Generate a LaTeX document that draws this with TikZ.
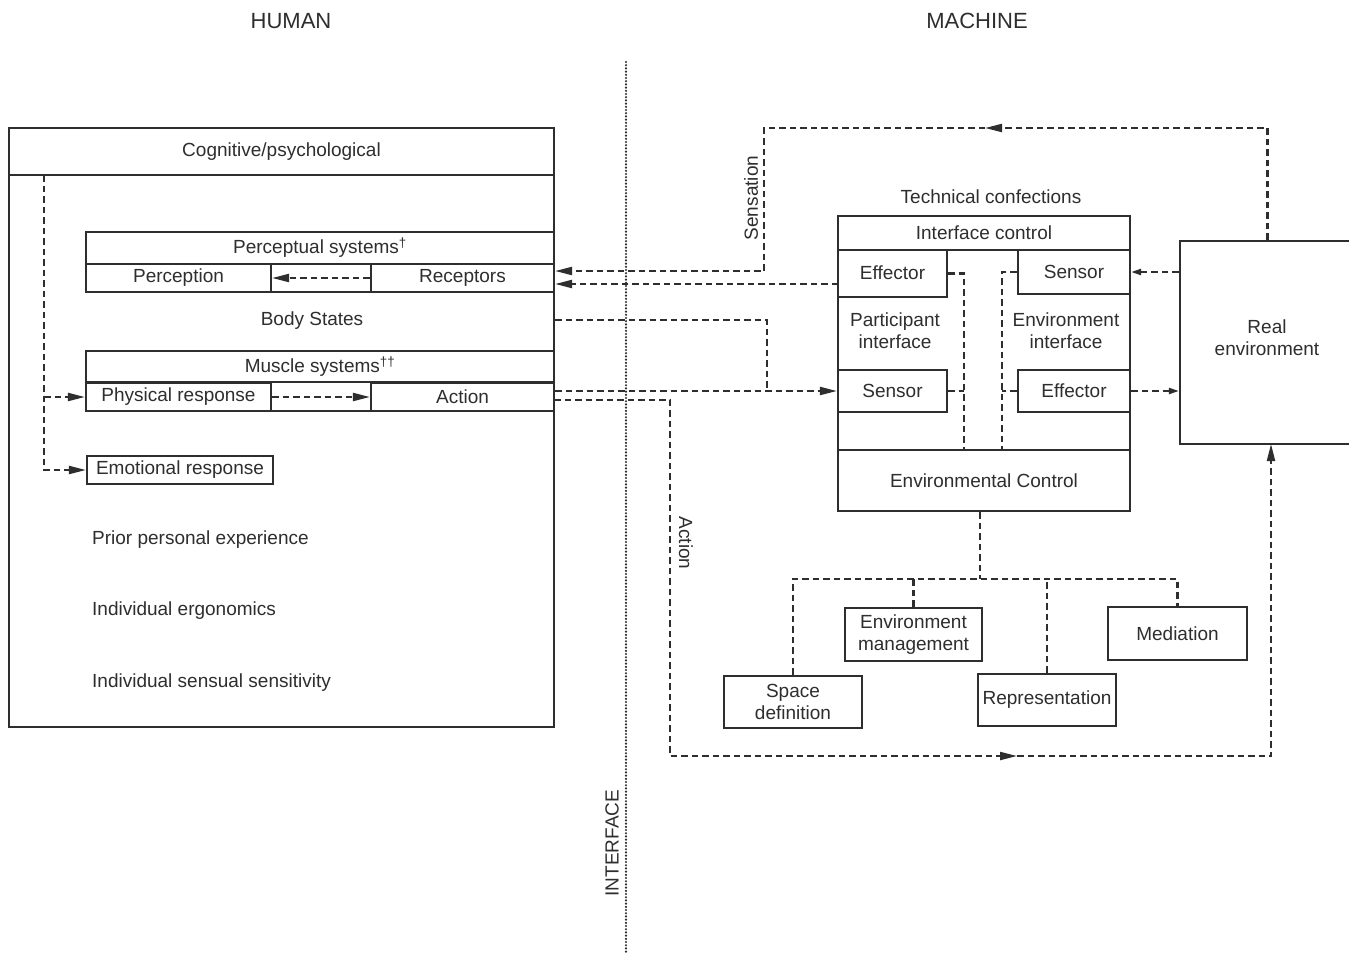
\documentclass[tikz,border=0pt]{standalone}
\usepackage{fontspec}
\setmainfont{Liberation Sans}
\usetikzlibrary{arrows.meta,calc}
\definecolor{ink}{HTML}{2E2E2E}
\begin{document}
\begin{tikzpicture}[x=1pt,y=-1pt,
  every node/.style={font=\fontsize{19}{22}\selectfont, text=ink},
  box/.style={draw=ink, line width=2.2pt, inner sep=0pt, align=center},
  lbl/.style={inner sep=0pt, align=center},
  dline/.style={draw=ink, line width=2.1pt, dash pattern=on 6.5pt off 4pt},
  bigarr/.style={-{Triangle[length=17pt,width=8pt]}},
  smallarr/.style={-{Triangle[length=10pt,width=6pt]}},
  dotline/.style={draw=ink, line width=2.4pt, line cap=round, dash pattern=on 0pt off 3.2pt},
  title/.style={font=\fontsize{22}{26}\selectfont, inner sep=0pt}]
\useasboundingbox (0,0) rectangle (1349,954);
\fill[white] (0,0) rectangle (1349,954);

% titles
\node[title] (thuman) at (291,21) {HUMAN};
\node[title] (tmachine) at (977,21) {MACHINE};

% interface divider
\draw[dotline] (626,62) -- (626,954);
\node[lbl, rotate=90] (tiface) at (612,843) {INTERFACE};

% ---------- HUMAN ----------
\node[box, minimum width=545pt, minimum height=599pt] (human) at (281.5,427.5) {};
\node[box, minimum width=545pt, minimum height=47pt] (cog) at (281.5,151.5) {\raisebox{-2pt}{Cognitive/psychological}};

\node[box, minimum width=468pt, minimum height=60pt] (percout) at (320,262) {};
\node[box, minimum width=468pt, minimum height=32pt] (percsys) at (320,248) {\raisebox{-2pt}{Perceptual systems\textsuperscript{†}}};
\node[box, minimum width=185pt, minimum height=28pt] (perception) at (178.5,278) {\raisebox{-2pt}{Perception}};
\node[box, minimum width=183pt, minimum height=28pt] (receptors) at (462.5,278) {Receptors};

\node[lbl] (bs) at (312,321) {Body States};

\node[box, minimum width=468pt, minimum height=60pt] (muscout) at (320,381) {};
\node[box, minimum width=468pt, minimum height=31pt] (muscsys) at (320,366.5) {\raisebox{-2pt}{Muscle systems\textsuperscript{††}}};
\node[box, minimum width=185pt, minimum height=28pt] (physical) at (178.5,397) {Physical response};
\node[box, minimum width=183pt, minimum height=28pt] (action) at (462.5,397) {Action};

\node[box, minimum width=186pt, minimum height=28pt] (emotional) at (180,470) {\raisebox{-2pt}{Emotional response}};

\node[lbl, anchor=west] (prior) at (92,540) {Prior personal experience};
\node[lbl, anchor=west] (ergo) at (92,611) {Individual ergonomics};
\node[lbl, anchor=west] (sens) at (92,683) {Individual sensual sensitivity};

% ---------- MACHINE ----------
\node[lbl] (techc) at (991,197) {Technical confections};
\node[box, minimum width=292pt, minimum height=295pt] (tech) at (984,363.5) {};
\node[box, minimum width=292pt, minimum height=34pt] (ifctrl) at (984,233) {\raisebox{-1pt}{Interface control}};
\node[box, minimum width=109pt, minimum height=47pt] (effL) at (892.5,273.5) {\raisebox{2pt}{Effector}};
\node[box, minimum width=112pt, minimum height=44pt] (sensR) at (1074,272) {Sensor};
\node[lbl] (partif) at (895,331) {Participant\\interface};
\node[lbl] (envif) at (1066,331) {Environment\\interface};
\node[box, minimum width=109pt, minimum height=42pt] (sensL) at (892.5,391) {Sensor};
\node[box, minimum width=112pt, minimum height=42pt] (effR) at (1074,391) {Effector};
\node[box, minimum width=292pt, minimum height=61pt] (envctrl) at (984,480.5) {\raisebox{-2pt}{Environmental Control}};

\node[box, minimum width=175pt, minimum height=203pt] (realenv) at (1267.5,342.5) {};
\node[lbl] (realtxt) at (1267,338) {Real\\environment};

\node[box, minimum width=137pt, minimum height=53pt] (envmgmt) at (913.5,634.5) {Environment\\management};
\node[box, minimum width=139pt, minimum height=53pt] (mediation) at (1177.5,633.5) {Mediation};
\node[box, minimum width=138pt, minimum height=52pt] (spacedef) at (793,702) {Space\\definition};
\node[box, minimum width=138pt, minimum height=52pt] (repres) at (1047,700) {\raisebox{-2pt}{Representation}};

% connector labels
\node[lbl, rotate=90] (lsens) at (751,198) {Sensation};
\node[lbl, rotate=-90] (lact) at (686,543) {Action};

% ---------- connectors (human side) ----------
\coordinate (lt) at (44,175);
\draw[dline,bigarr] (lt) |- (emotional.west);
\draw[dline,bigarr] (lt |- physical.west) -- (physical.west);
\draw[dline,bigarr] (receptors.west) -- (perception.east);
\draw[dline,bigarr] (physical.east) -- (action.west);

% Sensation loop
\coordinate (sTop) at (985,128);
\coordinate (sDown) at (764,271);
\draw[dline,bigarr] (realenv.north) |- (sTop);
\draw[dline,bigarr] (sTop) -| (sDown) -- (sDown -| receptors.east);

% effector -> receptors
\coordinate (eL) at (838,284);
\draw[dline,bigarr] (eL) -- (eL -| receptors.east);

% body states -> sensor
\coordinate (bsc) at (767,391);
\draw[dline] (human.east |- 0,320) -| (bsc);
\draw[dline,bigarr] (sensL.west -| action.east) -- (sensL.west);

% action loop to real environment
\coordinate (aS) at (554,400);
\coordinate (aC) at (670,756);
\coordinate (aMid) at (1017,756);
\coordinate (rB) at (1271,444);
\draw[dline,bigarr] (aS) -| (aC) -- (aMid);
\draw[dline,bigarr] (aMid) -| (rB);

% inner machine links
\coordinate (vL) at (964,450);
\coordinate (vR) at (1002,450);
\draw[dline] (effL.east) -| (vL);
\draw[dline] (sensL.east) -- (sensL.east -| vL);
\draw[dline] (sensR.west) -| (vR);
\draw[dline] (effR.west) -- (effR.west -| vR);

% real environment links
\draw[dline,smallarr] (sensR.east -| realenv.west) -- (sensR.east);
\draw[dline,smallarr] (effR.east) -- (effR.east -| realenv.west);

% tree below environmental control
\coordinate (bus) at (980,579);
\draw[dline] (envctrl.south -| bus) -- (bus);
\draw[dline] (spacedef.north) |- (mediation.north |- bus) -- (mediation.north);
\draw[dline] (envmgmt.north) -- (envmgmt.north |- bus);
\draw[dline] (repres.north) -- (repres.north |- bus);
\end{tikzpicture}
\end{document}
